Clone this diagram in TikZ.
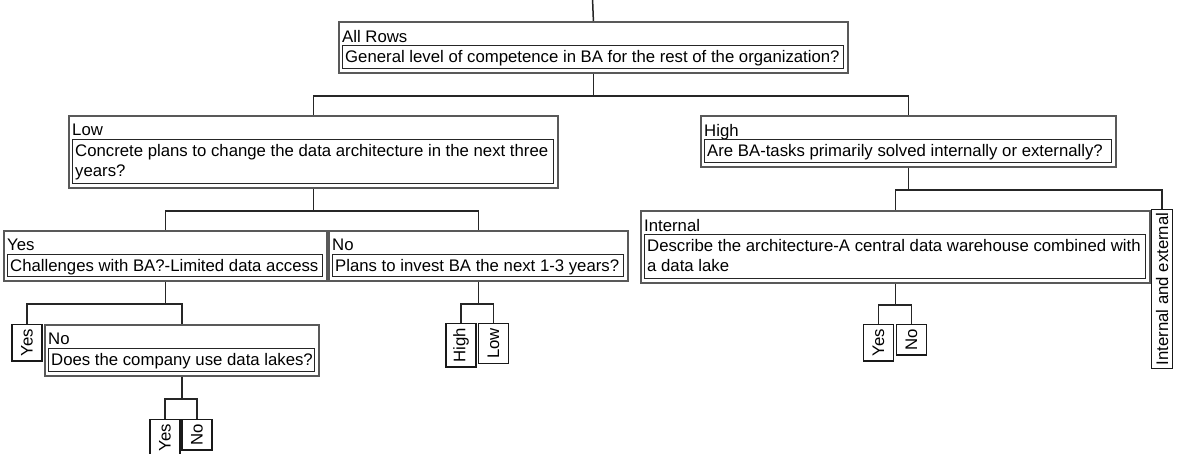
\documentclass[tikz,border=0pt]{standalone}
\usepackage{fontspec}
\setmainfont{Liberation Sans}
\begin{document}
\begin{tikzpicture}[x=1pt,y=-1pt,
  every node/.style={font=\fontsize{16.75}{20}\selectfont},
  outerbox/.style={draw=black!65, line width=1.8pt, fill=white, inner sep=0pt, anchor=north west},
  innerbox/.style={draw=black!85, line width=1.4pt, inner sep=0pt, anchor=north west},
  txt/.style={inner sep=0pt, anchor=north west, align=left},
  leaf/.style={draw=black!90, line width=1.3pt, fill=white, rotate=90, anchor=east,
               inner xsep=4.5pt, inner ysep=0pt, minimum height=30pt},
  conn/.style={draw=black!85, line width=1.5pt}
]
% decision box: name, x1, y1, x2, y2, answer label, question
\newcommand\decbox[7]{%
  \pgfmathsetmacro\bxW{#4-#2}\pgfmathsetmacro\bxH{#5-#3}%
  \pgfmathsetmacro\bxIW{#4-#2-8}\pgfmathsetmacro\bxIH{#5-#3-28}%
  \node[outerbox, minimum width=\bxW pt, minimum height=\bxH pt] (#1) at (#2,#3) {};
  \node[txt] (#1-label) at (#2+4,#3+9) {#6};
  \node[innerbox, minimum width=\bxIW pt, minimum height=\bxIH pt] (#1-box) at (#2+4,#3+24) {};
  \node[txt] (#1-text) at (#2+7,#3+29) {#7};
}
\useasboundingbox[fill=white] (0,0) rectangle (1182,454);

% decision boxes
\decbox{root}{338}{21}{847}{72}{All Rows}{General level of competence in BA for the rest of the organization?}
\decbox{low}{68}{115}{557}{187}{Low}{Concrete plans to change the data architecture in the next three\\years?}
\decbox{high}{700}{115}{1115}{166}{High}{Are BA-tasks primarily solved internally or externally?}
\decbox{yesb}{3}{230}{326}{280}{Yes}{Challenges with BA?-Limited data access}
\decbox{nob}{328}{230}{627}{280}{No}{Plans to invest BA the next 1-3 years?}
\decbox{lakes}{44}{324}{318}{375}{No}{Does the company use data lakes?}
\decbox{internal}{640}{210}{1149}{282}{Internal}{Describe the architecture-A central data warehouse combined with\\a data lake}

% terminal answers
\node[leaf] (yesb-yes) at (27,324) {Yes};
\node[leaf] (lakes-yes) at (165,419) {Yes};
\node[leaf] (lakes-no) at (197,419) {No};
\node[leaf] (nob-high) at (461,323) {High};
\node[leaf] (nob-low) at (493.5,323) {Low};
\node[leaf] (int-yes) at (878.5,324) {Yes};
\node[leaf] (int-no) at (911.5,324) {No};
\node[leaf, minimum height=21pt, inner xsep=3pt] (high-both) at (1162,209) {Internal and external};

% connectors
\coordinate (entry) at (592.5,-2);
\draw[conn] (entry) -- (root.north);
\draw[conn] (root.south) -- ++(0,22) -| (low.north);
\draw[conn] (root.south) -- ++(0,22) -| (high.north);
\draw[conn] (low.south) -- ++(0,22) -| (yesb.north);
\draw[conn] (low.south) -- ++(0,22) -| (nob.north);
\draw[conn] (yesb.south) -- ++(0,22) -| (yesb-yes.east);
\draw[conn] (yesb.south) -- ++(0,22) -| (lakes.north);
\draw[conn] (lakes.south) -- ++(0,22) -| (lakes-yes.east);
\draw[conn] (lakes.south) -- ++(0,22) -| (lakes-no.east);
\draw[conn] (nob.south) -- ++(0,22) -| (nob-high.east);
\draw[conn] (nob.south) -- ++(0,22) -| (nob-low.east);
\draw[conn] (high.south) -- ++(0,22) -| (internal.north);
\draw[conn] (high.south) -- ++(0,22) -| (high-both.east);
\draw[conn] (internal.south) -- ++(0,21) -| (int-yes.east);
\draw[conn] (internal.south) -- ++(0,21) -| (int-no.east);
\end{tikzpicture}
\end{document}
